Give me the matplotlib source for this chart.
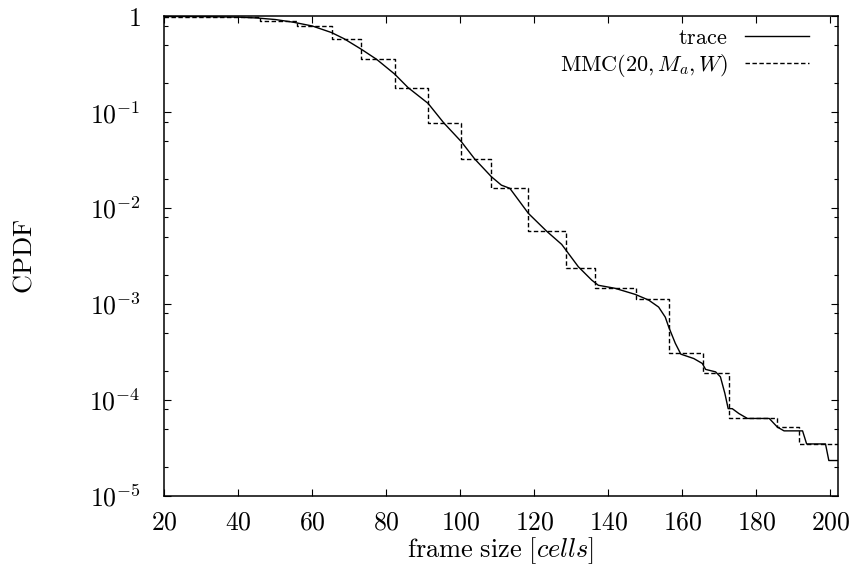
import matplotlib
matplotlib.use("Agg")
import matplotlib.pyplot as plt
from matplotlib.ticker import FixedLocator, FixedFormatter, NullFormatter

plt.rcParams['mathtext.fontset'] = 'cm'
plt.rcParams['font.family'] = ['DejaVu Serif']

trace_x = [20, 30, 40, 45, 50, 55, 60, 65.2, 68.6, 73.3, 77.4, 82.25, 85.9, 91.3, 95.5,
           100.3, 103.9, 108.4, 111.1, 113.4, 118.4, 123.3, 127.4, 131.9, 135.5, 137.3,
           141.8, 147.3, 150.9, 153.6, 155.4, 156.3, 158.1, 159.6, 163.1, 165.4, 166.3,
           169.0, 170.3, 171.5, 172.4, 173.5, 175.3, 177.6, 183.5, 185.7, 187.5, 192.5,
           193.6, 198.7, 199.6, 202]
trace_y = [1.0, 0.998, 0.985, 0.965, 0.93, 0.87, 0.796, 0.68, 0.586, 0.454, 0.357, 0.251,
           0.181, 0.124, 0.0779, 0.0493, 0.0326, 0.0213, 0.0174, 0.0161, 0.00883, 0.00577,
           0.00419, 0.00245, 0.00178, 0.00157, 0.00146, 0.00126, 0.0011, 0.00093, 0.00073,
           0.00058, 0.00039, 0.0003, 0.00027, 0.00024, 0.000208, 0.000196, 0.000174,
           0.000117, 8.1e-5, 8.1e-5, 7.2e-5, 6.4e-5, 6.4e-5, 5.2e-5, 4.75e-5, 4.75e-5,
           3.47e-5, 3.47e-5, 2.33e-5, 2.33e-5]

# MMC(20, M_a, W) model, step function (value holds until the next edge)
mmc_edges = [20, 46, 56, 65.2, 73.3, 82.25, 91.3, 100.3, 108.4, 118.4, 128.5, 136.4,
             147.5, 156.5, 165.6, 172.6, 185.5, 191.6, 202]
mmc_vals = [0.985, 0.905, 0.79, 0.586, 0.357, 0.181, 0.0779, 0.0326, 0.0161, 0.00577,
            0.00239, 0.001475, 0.001117, 0.00031, 0.000191, 6.4e-5, 5.2e-5, 3.47e-5, 3.47e-5]

x_ticks = [20, 40, 60, 80, 100, 120, 140, 160, 180, 200]
x_labels = ['$%d$' % v for v in x_ticks]
y_ticks = [1e-5, 1e-4, 1e-3, 1e-2, 1e-1, 1]
y_labels = ['$10^{-5}$', '$10^{-4}$', '$10^{-3}$', '$10^{-2}$', '$10^{-1}$', '$1$']
y_minor = [m * 10.0 ** e for e in range(-5, 0) for m in (2, 5, 8)]

fig = plt.figure(figsize=(8.49, 5.67), dpi=100)
ax = fig.add_axes([0.1935, 0.1257, 0.7932, 0.8452])

ax.plot(trace_x, trace_y, color='black', lw=1.0, label=r'$\mathrm{trace}$')
ax.plot(mmc_edges, mmc_vals, color='black', lw=1.0, ls=(0, (3.2, 1.8)),
        drawstyle='steps-post', label=r'$\mathrm{MMC}(20, M_a, W)$')

ax.set_yscale('log')
ax.set_xlim(20, 202)
ax.set_ylim(1e-5, 1)

ax.xaxis.set_major_locator(FixedLocator(x_ticks))
ax.xaxis.set_major_formatter(FixedFormatter(x_labels))
ax.yaxis.set_major_locator(FixedLocator(y_ticks))
ax.yaxis.set_major_formatter(FixedFormatter(y_labels))
ax.yaxis.set_minor_locator(FixedLocator(y_minor))
ax.yaxis.set_minor_formatter(NullFormatter())
ax.xaxis.set_minor_locator(FixedLocator([]))

ax.tick_params(which='both', direction='in', top=True, right=True, width=0.8)
ax.tick_params(which='major', length=5, labelsize=18.5)
ax.tick_params(which='minor', length=3)
ax.tick_params(axis='x', pad=10)
ax.tick_params(axis='y', pad=17)
for s in ax.spines.values():
    s.set_linewidth(1.1)

ax.set_xlabel(r'$\mathrm{frame\ size}\ [cells]$', fontsize=19)
ax.set_ylabel(r'$\mathrm{CPDF}$', fontsize=19)
ax.xaxis.set_label_coords(0.5, -0.082)
ax.yaxis.set_label_coords(-0.19, 0.5)

ax.legend(loc='upper right', bbox_to_anchor=(0.9574, 0.978), frameon=False,
          markerfirst=False, fontsize=16, handlelength=2.9, handletextpad=0.75,
          labelspacing=0.12, borderpad=0, borderaxespad=0)

fig.savefig('out.png', dpi=100)
